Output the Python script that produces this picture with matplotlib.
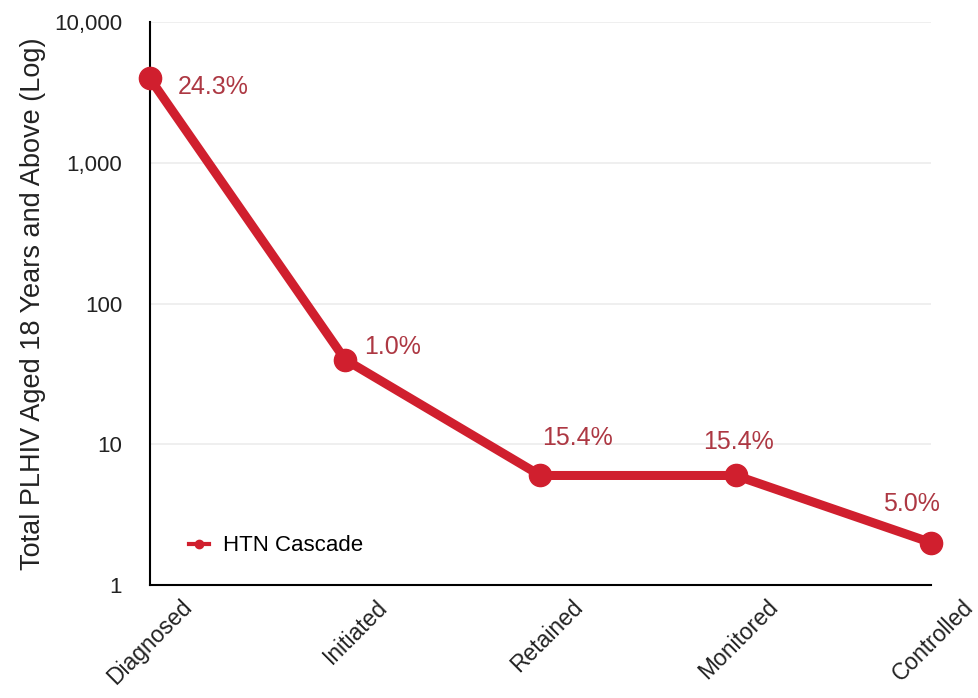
import numpy as np
import matplotlib.pyplot as plt
import matplotlib.transforms as mtransforms
from matplotlib.lines import Line2D
from matplotlib.ticker import FuncFormatter, NullLocator

plt.rcParams['font.family'] = ['Liberation Sans', 'DejaVu Sans']

# Cascade data
stages = ["Diagnosed", "Initiated", "Retained", "Monitored", "Controlled"]
counts = [4000, 40, 6, 6, 2]
pctLabels = ["24.3%", "1.0%", "15.4%", "15.4%", "5.0%"]
yTicks = [1, 10, 100, 1000, 10000]

lineColor = "#d01f2e"
textColor = "#ad3843"


def main():
    fig = plt.figure(figsize=(9.79, 6.98), dpi=100)
    ax = fig.add_axes([0.153, 0.162, 0.798, 0.806])

    x = np.arange(len(stages))
    ax.plot(x, counts, color=lineColor, linewidth=6.5, marker="o", markersize=16,
            solid_capstyle="round", zorder=3, clip_on=False)

    ax.set_yscale("log")
    ax.set_ylim(1, 10000)
    ax.set_xlim(0, len(stages) - 1)
    ax.set_yticks(yTicks)
    ax.yaxis.set_minor_locator(NullLocator())
    ax.yaxis.set_major_formatter(FuncFormatter(lambda v, p: "{:,.0f}".format(v)))
    ax.grid(axis="y", color="#ececec", linewidth=1.2)
    ax.set_axisbelow(True)

    for s in ["top", "right"]:
        ax.spines[s].set_visible(False)
    ax.spines["left"].set_linewidth(1.5)
    ax.spines["bottom"].set_linewidth(1.5)
    ax.tick_params(length=0, labelsize=16, colors="#222222")
    ax.tick_params(axis="y", pad=20)

    # x tick labels rotated, shifted right a bit
    ax.set_xticks(x)
    ax.set_xticklabels(stages, rotation=45, ha="right", va="center",
                       rotation_mode="anchor", fontsize=16.5)
    offset = mtransforms.ScaledTranslation(0.39, -0.14, fig.dpi_scale_trans)
    for lbl in ax.get_xticklabels():
        lbl.set_transform(lbl.get_transform() + offset)

    ax.set_ylabel("Total PLHIV Aged 18 Years and Above (Log)", fontsize=19.5,
                  color="#222222", labelpad=6)

    # percentage labels
    offsets = [(20, -6, "left"), (14, 9, "left"), (1, 27, "left"),
               (2, 24, "center"), (-14, 28, "center")]
    for i in range(len(stages)):
        dx, dy, ha = offsets[i]
        ax.annotate(pctLabels[i], (x[i], counts[i]), xytext=(dx, dy),
                    textcoords="offset points", ha=ha, va="center",
                    fontsize=18, color=textColor)

    handle = Line2D([], [], color=lineColor, linewidth=3, marker="o", markersize=6)
    ax.legend([handle], ["HTN Cascade"], loc="lower left", bbox_to_anchor=(0.025, 0.015),
              frameon=False, fontsize=16, handlelength=0.9, handletextpad=0.6)

    fig.savefig("out.png", dpi=100)


if __name__ == "__main__":
    main()
